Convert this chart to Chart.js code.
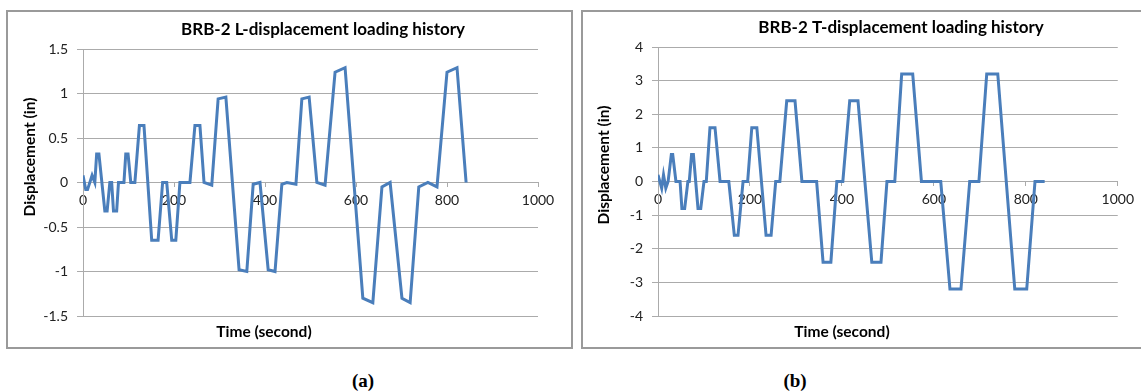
<!DOCTYPE html>
<html>
<head>
<meta charset="utf-8">
<script src="https://cdn.jsdelivr.net/npm/chart.js@4/dist/chart.umd.min.js"></script>
<style>
  html, body { margin: 0; padding: 0; background: #fff; }
  body { width: 1141px; height: 392px; position: relative; overflow: hidden; }
  .box { position: absolute; border: 2px solid #9a9a9a; box-sizing: border-box; background: #fff; }
  .cv { position: absolute; }
  .cap { position: absolute; font-family: "Liberation Serif", "Times New Roman", serif; font-weight: bold; font-size: 19px; color: #000; transform: translate(-50%, -50%); }
</style>
</head>
<body>
<div class="box" style="left:6px; top:10px; width:567px; height:339px;"></div>
<div class="box" style="left:581px; top:10px; width:562px; height:339px;"></div>
<div class="cv" style="left:7px; top:11px; width:564px; height:336px;"><canvas id="cA"></canvas></div>
<div class="cv" style="left:582px; top:11px; width:558px; height:336px;"><canvas id="cB"></canvas></div>
<div class="cap" style="left:363px; top:381px;">(a)</div>
<div class="cap" style="left:795px; top:381px;">(b)</div>
<script>
// ---- data ----
const lTime = [0,6,10,20,26,30,35,48,53,59,63,67,74,78,90,94,99,105,114,124,134,151,165,175,184,195,204,213,235,246,257,266,283,297,314,343,360,374,389,407,422,437,448,468,481,497,514,532,554,576,615,637,657,675,701,719,738,758,778,800,822,842];
const lDisp = [0.08,-0.08,-0.08,0.08,0,0.32,0.32,-0.32,-0.32,0,0,-0.32,-0.32,0,0,0.32,0.32,0,0,0.64,0.64,-0.65,-0.65,0,0,-0.65,-0.65,0,0,0.64,0.64,0,-0.03,0.94,0.96,-0.98,-1.0,-0.02,0,-0.98,-1.0,-0.02,0,-0.02,0.94,0.96,0,-0.03,1.24,1.29,-1.3,-1.35,-0.05,0,-1.3,-1.35,-0.05,0,-0.05,1.24,1.29,0];
const tTime = [0,8,12,17,22,29,32,39,48,52,58,65,68,73,77,87,93,100,105,113,124,135,154,166,174,185,195,204,215,235,246,256,265,280,298,313,345,359,376,389,402,417,435,450,465,485,498,515,530,554,573,615,635,659,678,698,715,739,776,802,820,841];
const tDisp = [0.2,-0.2,0.2,-0.2,0,0.8,0.8,0,0,-0.8,-0.8,0,0,0.8,0.8,-0.8,-0.8,0,0,1.6,1.6,0,0,-1.6,-1.6,0,0,1.6,1.6,-1.6,-1.6,0,0,2.4,2.4,0,0,-2.4,-2.4,0,0,2.4,2.4,0,-2.4,-2.4,0,0,3.2,3.2,0,0,-3.2,-3.2,0,0,3.2,3.2,-3.2,-3.2,0,0];
const xTicks = [0,200,400,600,800,1000];
const xTickLabels = ['0','200','400','600','800','1000'];
const lYTicks = [-1.5,-1,-0.5,0,0.5,1,1.5];
const lYTickLabels = ['-1.5','-1','-0.5','0','0.5','1','1.5'];
const tYTicks = [-4,-3,-2,-1,0,1,2,3,4];
const tYTickLabels = ['-4','-3','-2','-1','0','1','2','3','4'];
const titleA = 'BRB-2 L-displacement loading history';
const titleB = 'BRB-2 T-displacement loading history';
const xTitle = 'Time (second)';
const yTitle = 'Displacement (in)';

const FONT = 'Lato, "Open Sans", sans-serif';
const GRID = '#ababab';
const LINE = '#4a7ebb';

const textPlugin = {
  id: 'texts',
  afterDraw(chart, args, opts) {
    const ctx = chart.ctx;
    (opts.items || []).forEach(it => {
      ctx.save();
      ctx.font = it.font;
      ctx.fillStyle = '#000';
      ctx.textAlign = 'center';
      ctx.textBaseline = 'middle';
      ctx.translate(it.x, it.y);
      if (it.rot) ctx.rotate(it.rot);
      ctx.fillText(it.text, 0, 0);
      ctx.restore();
    });
  }
};

function makeChart(id, xs, ys, yTicks, yLabels, ymin, ymax, padRight, padTop, texts) {
  const pts = xs.map((x, i) => ({x: x, y: ys[i]}));
  return new Chart(document.getElementById(id), {
    type: 'line',
    data: { datasets: [{ data: pts, borderColor: LINE, borderWidth: 3, pointRadius: 0, tension: 0, fill: false, borderJoinStyle: 'miter' }] },
    options: {
      responsive: true, maintainAspectRatio: false, animation: false,
      layout: { padding: { left: 0, right: padRight, top: padTop, bottom: 31 } },
      plugins: { legend: { display: false }, tooltip: { enabled: false }, title: { display: false }, texts: { items: texts } },
      scales: {
        x: {
          type: 'linear', min: 0, max: 1000, position: { y: 0 },
          afterBuildTicks: s => { s.ticks = xTicks.map(v => ({value: v})); },
          ticks: { font: { family: FONT, size: 14 }, color: '#222', padding: 6, maxRotation: 0,
                   callback: (v) => xTickLabels[xTicks.indexOf(v)] },
          grid: { drawOnChartArea: false, drawTicks: true, tickLength: 4, color: GRID },
          border: { display: true, color: GRID, width: 1 }
        },
        y: {
          type: 'linear', min: ymin, max: ymax,
          afterBuildTicks: s => { s.ticks = yTicks.map(v => ({value: v})); },
          afterFit: s => { s.width = 76; },
          ticks: { font: { family: FONT, size: 14 }, color: '#222', padding: 9,
                   callback: (v) => yLabels[yTicks.indexOf(v)] },
          grid: { color: GRID, lineWidth: 1, drawTicks: true, tickLength: 6 },
          border: { display: true, color: GRID, width: 1 }
        }
      }
    },
    plugins: [textPlugin]
  });
}

const boldT = 'bold 17px ' + FONT;
const boldA = 'bold 15.5px ' + FONT;
makeChart('cA', lTime, lDisp, lYTicks, lYTickLabels, -1.5, 1.5, 33, 38, [
  { text: titleA, x: 316, y: 19, font: boldT },
  { text: xTitle, x: 257, y: 321, font: boldA },
  { text: yTitle, x: 23, y: 146, font: boldA, rot: -Math.PI / 2 }
]);
makeChart('cB', tTime, tDisp, tYTicks, tYTickLabels, -4, 4, 22, 36, [
  { text: titleB, x: 319, y: 17, font: boldT },
  { text: xTitle, x: 260, y: 321, font: boldA },
  { text: yTitle, x: 22, y: 154, font: boldA, rot: -Math.PI / 2 }
]);
</script>
</body>
</html>
